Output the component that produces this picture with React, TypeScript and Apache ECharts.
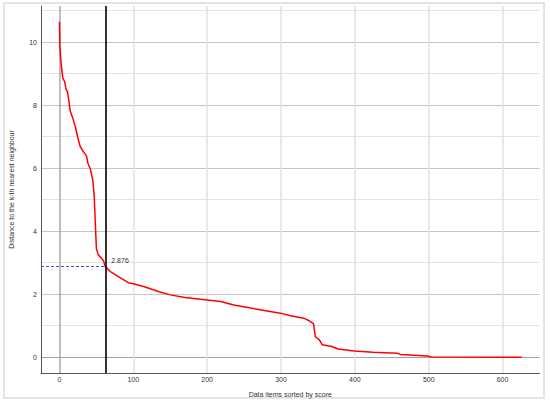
import React, { useEffect, useRef } from "react";
import * as echarts from "echarts";

// Data
const itemIndex = [0, 0.5, 2, 4.5, 7, 9, 11, 12.5, 14.5, 18, 21.5, 24.5, 28, 32.5, 36.5, 38.5, 42, 45, 47, 48.5, 50, 52.5, 57, 59.7, 62, 70, 83, 94, 100, 115, 135, 150, 170, 191, 218, 236, 259, 299, 313, 331, 338, 344, 346.5, 352, 355.7, 369, 377, 399, 425, 457, 461.5, 498, 503, 626];
const distance = [10.65, 9.9, 9.38, 8.86, 8.75, 8.5, 8.42, 8.17, 7.83, 7.59, 7.32, 7.0, 6.69, 6.52, 6.4, 6.16, 5.97, 5.63, 5.15, 4.3, 3.45, 3.25, 3.14, 3.06, 2.876, 2.7, 2.51, 2.36, 2.33, 2.24, 2.08, 1.98, 1.9, 1.84, 1.77, 1.66, 1.56, 1.4, 1.32, 1.24, 1.16, 1.06, 0.65, 0.55, 0.4, 0.34, 0.26, 0.2, 0.16, 0.13, 0.09, 0.04, 0.01, 0.0];
const cutIndex = 62;
const cutValue = 2.876;
const xName = "Data items sorted by score";
const yName = "Distance to the k-th nearest neighbour";

const X_MIN = -25, X_MAX = 650, X_STEP = 25;
const Y_MIN = -0.5, Y_MAX = 11.15, Y_STEP = 0.5;

const FONT = "Liberation Sans";

export default function App() {
  const ref = useRef<HTMLDivElement>(null);
  useEffect(() => {
    if (!ref.current) return;
    const chart = echarts.init(ref.current, undefined, { renderer: "svg" });

    const xColors: string[] = [];
    for (let v = X_MIN; v <= X_MAX + 1e-9; v += X_STEP) {
      if (v === 0) xColors.push("#a8a8a8");
      else if (v % 100 === 0) xColors.push("#e0e0e0");
      else xColors.push("rgba(0,0,0,0)");
    }
    const yColors: string[] = [];
    for (let i = 0; i < 25; i++) {
      const v = Y_MIN + i * Y_STEP;
      if (v === 0) yColors.push("#a0a0a0");
      else if (Number.isInteger(v) && v % 2 === 0) yColors.push("#c6c6c6");
      else if (Number.isInteger(v)) yColors.push("#e2e2e2");
      else yColors.push("rgba(0,0,0,0)");
    }

    const points = itemIndex.map((x, i) => [x, distance[i]]);

    chart.setOption({
      animation: false,
      backgroundColor: "#ffffff",
      textStyle: { fontFamily: FONT },
      graphic: [
        {
          type: "rect",
          shape: { x: 4, y: 3, width: 540, height: 395 },
          style: { fill: "none", stroke: "#e4e4e4", lineWidth: 2 },
          silent: true,
          z: -10,
        },
      ],
      grid: { left: 39.5, right: 10.5, top: 6, bottom: 33, containLabel: false },
      xAxis: {
        type: "value",
        min: X_MIN,
        max: X_MAX,
        interval: X_STEP,
        name: xName,
        nameLocation: "middle",
        nameGap: 18,
        nameTextStyle: { fontFamily: FONT, fontSize: 7, color: "#333" },
        axisLine: { show: true, onZero: false, lineStyle: { color: "#555", width: 1 } },
        axisTick: { show: false },
        axisLabel: {
          margin: 3,
          fontFamily: FONT,
          fontSize: 7,
          color: "#333",
          formatter: (v: number) => (v % 100 === 0 ? String(v) : ""),
        },
        splitLine: { show: true, lineStyle: { color: xColors, width: 1.5 } },
      },
      yAxis: {
        type: "value",
        min: Y_MIN,
        max: Y_MAX,
        interval: Y_STEP,
        name: yName,
        nameLocation: "middle",
        nameGap: 26,
        nameTextStyle: { fontFamily: FONT, fontSize: 7, color: "#333" },
        axisLine: { show: true, onZero: false, lineStyle: { color: "#555", width: 1 } },
        axisTick: { show: false },
        axisLabel: {
          margin: 4,
          fontFamily: FONT,
          fontSize: 7,
          color: "#333",
          formatter: (v: number) =>
            Number.isInteger(v) && v % 2 === 0 && v >= 0 ? String(v) : "",
        },
        splitLine: { show: true, lineStyle: { color: yColors, width: 1 } },
      },
      series: [
        {
          type: "line",
          data: points,
          showSymbol: false,
          symbol: "none",
          lineStyle: { color: "#ff0000", width: 1.5 },
          z: 3,
          markLine: {
            silent: true,
            symbol: "none",
            label: { show: false },
            animation: false,
            data: [
              {
                xAxis: cutIndex,
                lineStyle: { color: "#000000", width: 1.6, type: "solid" },
              },
              [
                {
                  coord: [X_MIN, cutValue],
                  lineStyle: { color: "#3a4fd8", width: 1, type: [3, 2] },
                },
                { coord: [cutIndex, cutValue] },
              ],
            ],
          },
          markPoint: {
            silent: true,
            symbol: "circle",
            symbolSize: 0,
            data: [
              {
                coord: [cutIndex, cutValue],
                label: {
                  show: true,
                  formatter: String(cutValue),
                  position: "right",
                  offset: [1, -6],
                  fontFamily: FONT,
                  fontSize: 7,
                  color: "#333",
                },
              },
            ],
          },
        },
      ],
    });
    return () => chart.dispose();
  }, []);
  return (
    <div
      ref={ref}
      style={{ position: "fixed", left: 0, top: 0, width: 550, height: 406 }}
    />
  );
}
